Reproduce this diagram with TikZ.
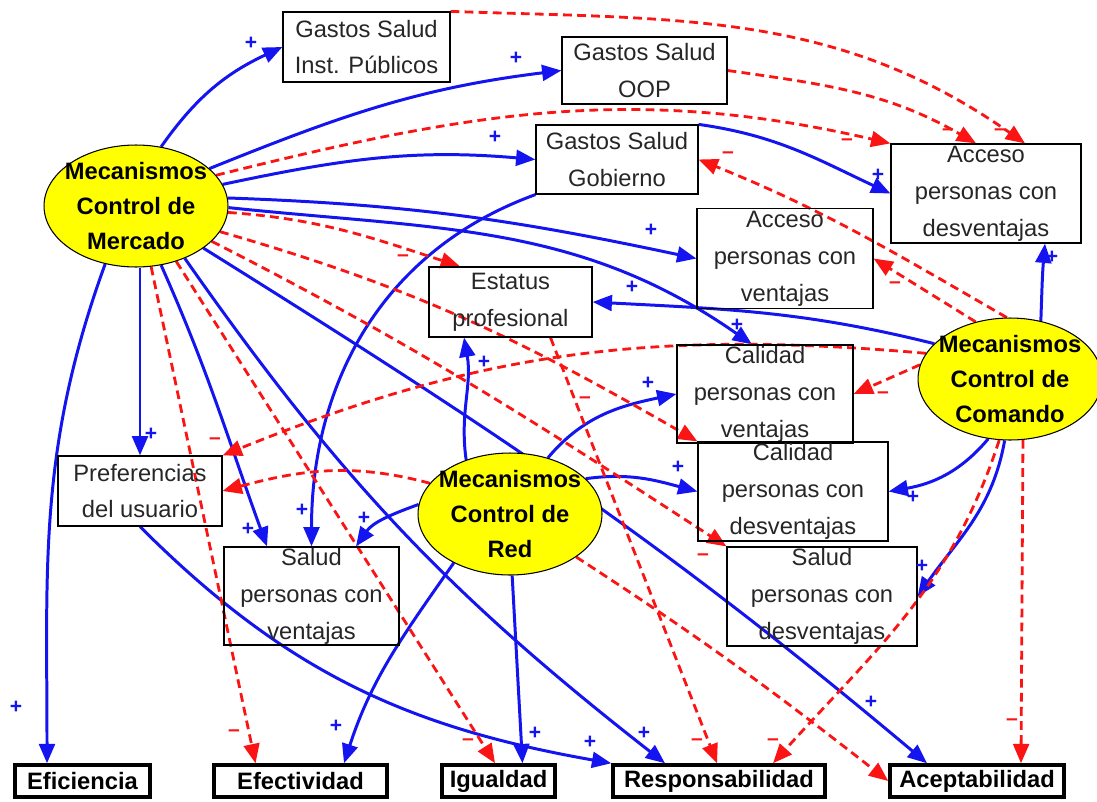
\documentclass[tikz,border=0pt]{standalone}
\usepackage{fontspec}
\setmainfont{Liberation Sans}
\usepackage{xcolor}
\usetikzlibrary{shapes.geometric, arrows.meta}
\definecolor{linkblue}{RGB}{20,20,240}
\definecolor{linkred}{RGB}{250,20,20}
\definecolor{mechyellow}{RGB}{255,255,0}
\pgfdeclarelayer{background}
\pgfsetlayers{background,main}

\begin{document}
\begin{tikzpicture}[
  x=0.02cm, y=0.02cm,
  every node/.style={font=\fontsize{13.5}{21}\selectfont},
  box/.style={rectangle, draw, line width=0.7pt, align=center, inner sep=0pt,
              text=black!85},
  result/.style={rectangle, draw, line width=2pt, minimum height=0.64cm,
                 inner sep=0pt, font=\fontsize{13.5}{16}\selectfont\bfseries},
  mech/.style={ellipse, draw, fill=mechyellow, line width=0.6pt, inner sep=0pt,
               minimum width=3.68cm, minimum height=2.44cm},
  mechtext/.style={align=center, font=\fontsize{13.5}{20}\selectfont\bfseries},
  poslink/.style={draw=linkblue, line width=1.7pt, -{Triangle[length=11pt,width=9pt]}},
  neglink/.style={draw=linkred, line width=1.6pt, dash pattern=on 5pt off 3pt,
              -{Triangle[length=11pt,width=9pt]}},
  plus/.style={text=linkblue, inner sep=0pt, font=\fontsize{12}{12}\selectfont\bfseries},
  minus/.style={text=linkred, inner sep=0pt, font=\fontsize{12}{12}\selectfont\bfseries},
]
  \useasboundingbox (0,0) rectangle (1097,-801);

  % mechanisms
  \node[mech, label={[mechtext]center:Mecanismos\\Control de\\Mercado}] (merc) at (136,-206) {};
  \node[mech, label={[mechtext]center:Mecanismos\\Control de\\Comando}] (com) at (1010,-379) {};
  \node[mech, label={[mechtext]center:Mecanismos\\Control de\\Red}] (red) at (510,-514) {};

  % intermediate variables
  \node[box, minimum width=3.34cm, minimum height=1.40cm] (inst) at (366.5,-47) {Gastos Salud\\Inst. Públicos};
  \node[box, minimum width=3.30cm, minimum height=1.34cm] (oop) at (644.5,-70.5) {Gastos Salud\\OOP};
  \node[box, minimum width=3.24cm, minimum height=1.38cm] (gob) at (617,-159.5) {Gastos Salud\\Gobierno};
  \node[box, minimum width=3.80cm, minimum height=1.98cm] (accd) at (986,-193.5) {Acceso\\personas con\\desventajas};
  \node[box, minimum width=3.52cm, minimum height=2.00cm] (accv) at (785,-258.5) {Acceso\\personas con\\ventajas};
  \node[box, minimum width=3.26cm, minimum height=1.40cm] (est) at (510.5,-302) {Estatus\\profesional};
  \node[box, minimum width=3.52cm, minimum height=1.96cm] (calv) at (765,-394) {Calidad\\personas con\\ventajas};
  \node[box, minimum width=3.80cm, minimum height=1.98cm] (cald) at (793,-491.5) {Calidad\\personas con\\desventajas};
  \node[box, minimum width=3.50cm, minimum height=1.96cm] (salv) at (311.5,-596) {Salud\\personas con\\ventajas};
  \node[box, minimum width=3.80cm, minimum height=1.98cm] (sald) at (822,-596.5) {Salud\\personas con\\desventajas};
  \node[box, minimum width=3.28cm, minimum height=1.40cm] (pref) at (140,-491) {Preferencias\\del usuario};

  % outcomes
  \node[result, minimum width=2.70cm] (efic) at (82.5,-781) {Eficiencia};
  \node[result, minimum width=3.46cm] (efec) at (300.5,-781) {Efectividad};
  \node[result, minimum width=2.26cm] (igu) at (498.5,-781) {Igualdad};
  \node[result, minimum width=4.24cm] (resp) at (719,-781) {Responsabilidad};
  \node[result, minimum width=3.48cm] (acep) at (977,-781) {Aceptabilidad};

  \begin{pgfonlayer}{background}
  % positive links
  \draw[poslink] (merc.67) to[out=55, in=205] (inst.west);
  \draw[poslink] (merc.27) to[out=22, in=187] (oop.west);
  \draw[poslink] (merc.14) to[out=12, in=175] (gob.west);
  \draw[poslink] (merc.5) to[out=-2, in=168] (accv.west);
  \draw[poslink] (merc.-1) to[out=-6, in=145] ([xshift=-0.26cm]calv.north);
  \draw[poslink] (merc.south -| pref.north) -- (pref.north);
  \draw[poslink] (merc.-118) to[out=-110, in=90] ([xshift=-0.71cm]efic.north);
  \draw[poslink] (merc.-67) to[out=-66, in=110] ([xshift=-0.89cm]salv.north);
  \draw[poslink] (merc.-47) to[out=-55, in=142] ([xshift=-1.08cm]resp.north);
  \draw[poslink] (merc.-32) to[out=-32, in=140] ([xshift=-1.0cm]acep.north);
  \draw[poslink] (gob.south west) to[out=200, in=90] (salv.north);
  \draw[poslink] (gob.north east) to[out=-8, in=155] (accd.west);
  \draw[poslink] (com.62) to[out=88, in=-95] ([xshift=1.18cm]accd.south);
  \draw[poslink] (com.155) to[out=166, in=-3] (est.east);
  \draw[poslink] (com.-110) to[out=-130, in=10] (cald.east);
  \draw[poslink] (com.-95) to[out=-100, in=55] (sald.east);
  \draw[poslink] (red.129) to[out=98, in=-80] ([xshift=-0.93cm]est.south);
  \draw[poslink] (red.56) to[out=50, in=192] (calv.west);
  \draw[poslink] (red.25) to[out=8, in=165] (cald.west);
  \draw[poslink] (red.174) to[out=200, in=55] ([xshift=0.89cm]salv.north);
  \draw[poslink] (red.-139) to[out=-125, in=72] ([xshift=0.87cm]efec.north);
  \draw[poslink] (red.-88) -- ([xshift=0.48cm]igu.north);
  \draw[poslink] (pref.south) to[out=-45, in=170] (resp.north west);
  % negative links
  \draw[neglink] (merc.21) to[out=14, in=167] (accd.north west);
  \draw[neglink] (inst.north east) to[out=-2, in=145] ([xshift=0.78cm]accd.north);
  \draw[neglink] (oop.east) to[out=-8, in=150] ([xshift=-0.2cm]accd.north);
  \draw[neglink] (com.93) to[out=150, in=-22] (gob.east);
  \draw[neglink] (com.121) -- (accv.east);
  \draw[neglink] (com.171) -- (calv.east);
  \draw[neglink] (com.163) to[out=175, in=22] (pref.north east);
  \draw[neglink] (com.-100) to[out=-108, in=48] ([xshift=1.08cm]resp.north);
  \draw[neglink] (com.-78) -- ([xshift=0.88cm]acep.north);
  \draw[neglink] (red.159) to[out=165, in=15] (pref.east);
  \draw[neglink] (red.-33) to[out=-33, in=142] (acep.west);
  \draw[neglink] (merc.-76) -- ([xshift=-0.9cm]efec.north);
  \draw[neglink] (merc.-54) -- ([xshift=-0.07cm]igu.north);
  \draw[neglink] (merc.-4) to[out=-4, in=162] ([xshift=-1.01cm]est.north);
  \draw[neglink] (merc.-17) to[out=-16, in=150] (cald.north west);
  \draw[neglink] (merc.-25) to[out=-27, in=147] (sald.north west);
  \draw[neglink] ([xshift=0.8cm]est.south) -- ([xshift=-0.04cm]resp.north);
  \end{pgfonlayer}

  % signs
  \node[plus] (p_inst) at (251,-43) {+};
  \node[plus] (p_oop) at (516,-58) {+};
  \node[plus] (p_gob) at (495,-137) {+};
  \node[plus] (p_accv) at (651,-230) {+};
  \node[plus] (p_calv_m) at (737,-325) {+};
  \node[plus] (p_pref) at (151,-434) {+};
  \node[plus] (p_efic) at (16,-707) {+};
  \node[plus] (p_salv_m) at (248,-529) {+};
  \node[plus] (p_salv_g) at (302,-510) {+};
  \node[plus] (p_salv_r) at (364,-518) {+};
  \node[plus] (p_est_r) at (484,-362) {+};
  \node[plus] (p_est_c) at (632,-287) {+};
  \node[plus] (p_calv_r) at (648,-383) {+};
  \node[plus] (p_cald_r) at (678,-467) {+};
  \node[plus] (p_cald_c) at (913,-497) {+};
  \node[plus] (p_sald) at (922,-566) {+};
  \node[plus] (p_accd_c) at (1052,-257) {+};
  \node[plus] (p_accd_g) at (878,-175) {+};
  \node[plus] (p_efec) at (336,-726) {+};
  \node[plus] (p_igu) at (535,-733) {+};
  \node[plus] (p_resp_p) at (590,-742) {+};
  \node[plus] (p_resp_m) at (644,-733) {+};
  \node[plus] (p_acep) at (871,-702) {+};
  \node[minus] (m_accd_m) at (847,-142) {--};
  \node[minus] (m_accd_o) at (948,-132) {--};
  \node[minus] (m_accd_i) at (1000,-132) {--};
  \node[minus] (m_gob) at (728,-155) {--};
  \node[minus] (m_accv) at (895,-285) {--};
  \node[minus] (m_est) at (403,-258) {--};
  \node[minus] (m_calv) at (883,-395) {--};
  \node[minus] (m_cald) at (585,-400) {--};
  \node[minus] (m_sald) at (703,-557) {--};
  \node[minus] (m_pref) at (215,-441) {--};
  \node[minus] (m_efec) at (234,-733) {--};
  \node[minus] (m_igu) at (468,-742) {--};
  \node[minus] (m_resp_e) at (697,-742) {--};
  \node[minus] (m_resp_c) at (773,-742) {--};
  \node[minus] (m_acep) at (1012,-722) {--};
\end{tikzpicture}
\end{document}
